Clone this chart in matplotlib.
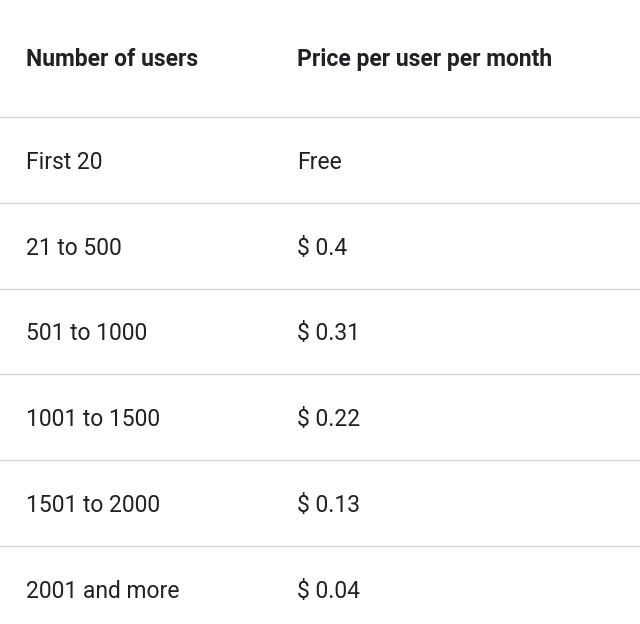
import matplotlib.pyplot as plt
from matplotlib.lines import Line2D

headers = ["Number of users", "Price per user per month"]
users = ["First 20", "21 to 500", "501 to 1000", "1001 to 1500", "1501 to 2000", "2001 and more"]
prices = ["Free", "$ 0.4", "$ 0.31", "$ 0.22", "$ 0.13", "$ 0.04"]

W, H = 640, 624
fig = plt.figure(figsize=(W / 100, H / 100), dpi=100)
fig.patch.set_facecolor("white")

col_x = [26, 297]
header_y = 57
first_line = 117
row_h = 85.8
txt = "#202124"
fs = 16.5

def fy(y):
    return 1 - y / H

for x, h in zip(col_x, headers):
    fig.text(x / W, fy(header_y), h, fontsize=fs, fontweight="bold",
             family="Roboto", color=txt, va="center_baseline")

for i, (u, p) in enumerate(zip(users, prices)):
    ly = first_line + i * row_h
    fig.add_artist(Line2D([0, 1], [fy(ly), fy(ly)], color="#d3d3d3", lw=0.9))
    cy = ly + row_h / 2
    fig.text(col_x[0] / W, fy(cy), u, fontsize=fs, family="Roboto", color=txt, va="center_baseline")
    fig.text(col_x[1] / W, fy(cy), p, fontsize=fs, family="Roboto", color=txt, va="center_baseline")

fig.savefig("out.png", dpi=100)
